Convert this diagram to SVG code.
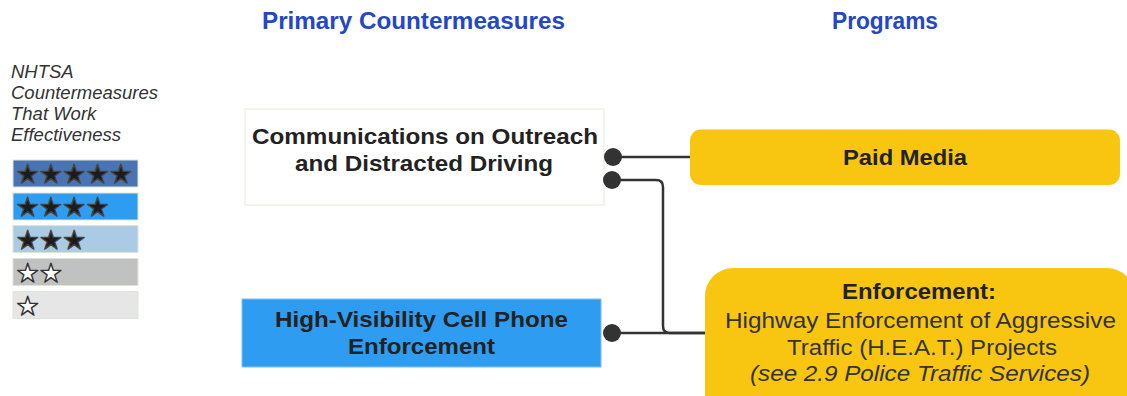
<svg xmlns="http://www.w3.org/2000/svg" width="1127" height="396" viewBox="0 0 1127 396">
<style>
.hdr{font-family:"Liberation Sans",Arial,sans-serif;font-weight:bold;font-size:23.5px;fill:#2447c6;text-anchor:middle}
.leg{font-family:"Liberation Sans",Arial,sans-serif;font-style:italic;font-size:18.5px;fill:#333}
.star{font-family:"DejaVu Sans",sans-serif;font-size:26px}
.sf{fill:#1c1c1c;stroke:#444;stroke-width:1.3;stroke-linejoin:round}
.so{fill:#fff;stroke:#333;stroke-width:1.4;stroke-linejoin:round}
.nt{font-family:"Liberation Sans",Arial,sans-serif;font-weight:bold;font-size:21.5px;fill:#222;text-anchor:middle}
.pt{font-family:"Liberation Sans",Arial,sans-serif;font-size:21.5px;fill:#333;text-anchor:middle}
.bar{stroke:#dde6d6;stroke-width:1}
.yel{fill:#f8c611}
.wire{fill:none;stroke:#333;stroke-width:2.5}
.dot{fill:#333}
</style>
<text class="hdr" x="413.5" y="29" textLength="303" lengthAdjust="spacingAndGlyphs">Primary Countermeasures</text>
<text class="hdr" x="885" y="29" textLength="106" lengthAdjust="spacingAndGlyphs">Programs</text>
<g id="legend">
<text class="leg" x="11" y="78">NHTSA</text>
<text class="leg" x="11" y="99">Countermeasures</text>
<text class="leg" x="11" y="120">That Work</text>
<text class="leg" x="11" y="141">Effectiveness</text>
<rect class="bar" x="13" y="160" width="125" height="27" fill="#4a73b3"/>
<rect class="bar" x="13" y="193" width="125" height="27" fill="#2e9cf0"/>
<rect class="bar" x="13" y="225.5" width="125" height="27" fill="#aacbe3"/>
<rect class="bar" x="13" y="258.5" width="125" height="27" fill="#c1c1c1"/>
<rect class="bar" x="13" y="291.5" width="125" height="27" fill="#e6e6e6"/>
<text class="star sf" x="16" y="183">★★★★★</text>
<text class="star sf" x="16" y="216">★★★★</text>
<text class="star sf" x="16" y="248.5">★★★</text>
<text class="star so" x="16" y="281.5">★★</text>
<text class="star so" x="16" y="314.5">★</text>
</g>
<g id="comm">
<rect x="245" y="109" width="359" height="96" fill="#fff" stroke="#e3ecd9" stroke-width="1"/>
<text class="nt" x="425" y="144" textLength="346" lengthAdjust="spacingAndGlyphs">Communications on Outreach</text>
<text class="nt" x="424" y="171" textLength="258" lengthAdjust="spacingAndGlyphs">and Distracted Driving</text>
</g>
<g id="hve">
<rect x="242" y="299" width="359" height="68" fill="#2e9cf0" stroke="#7cc0f2" stroke-width="1"/>
<text class="nt" x="421.5" y="327" textLength="293" lengthAdjust="spacingAndGlyphs">High-Visibility Cell Phone</text>
<text class="nt" x="421.5" y="354" textLength="147" lengthAdjust="spacingAndGlyphs">Enforcement</text>
</g>
<g id="paid">
<rect class="yel" x="690" y="129.5" width="430" height="55.5" rx="11"/>
<text class="nt" x="905" y="165" textLength="124" lengthAdjust="spacingAndGlyphs">Paid Media</text>
</g>
<g id="enf">
<rect class="yel" x="705" y="268" width="430" height="160" rx="28"/>
<text class="nt" x="919" y="299" textLength="154" lengthAdjust="spacingAndGlyphs">Enforcement:</text>
<text class="pt" x="920.5" y="328" textLength="391" lengthAdjust="spacingAndGlyphs">Highway Enforcement of Aggressive</text>
<text class="pt" x="922" y="355" textLength="270" lengthAdjust="spacingAndGlyphs">Traffic (H.E.A.T.) Projects</text>
<text class="pt" x="920" y="381" font-style="italic" textLength="340" lengthAdjust="spacingAndGlyphs">(see 2.9 Police Traffic Services)</text>
</g>
<g id="connectors">
<path class="wire" d="M613 157H690"/>
<path class="wire" d="M612 180H656Q663 180 663 187V326Q663 333 670 333H705"/>
<path class="wire" d="M612 333H705"/>
<circle class="dot" cx="613" cy="157" r="9"/>
<circle class="dot" cx="612" cy="180" r="9"/>
<circle class="dot" cx="612" cy="333" r="9"/>
</g>
</svg>
